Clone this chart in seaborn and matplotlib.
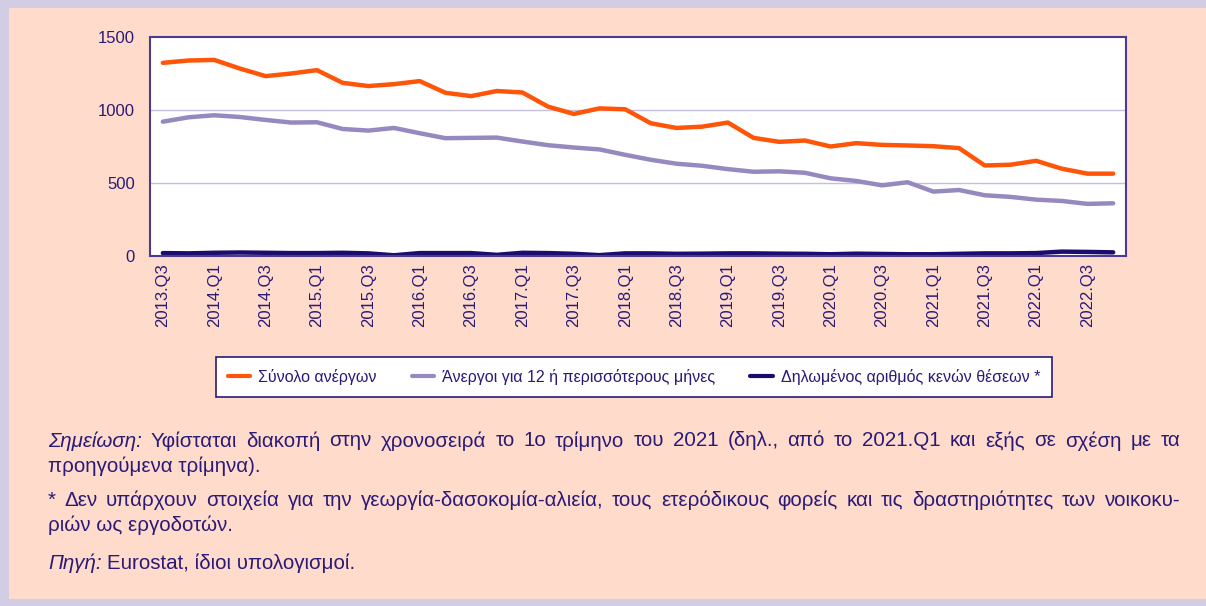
import numpy as np
import pandas as pd
import matplotlib.pyplot as plt
import matplotlib.transforms as mtransforms
import seaborn as sns

# ── Data ──────────────────────────────────────────────────────────────────────

quarters = [f"{y}.Q{q}" for y in range(2013, 2023) for q in range(1, 5)][2:]

total_unemployed = [1323, 1339, 1343, 1284, 1232, 1250, 1273, 1186, 1164, 1177,
                    1198, 1118, 1095, 1130, 1120, 1023, 973, 1011, 1005, 909,
                    877, 886, 914, 809, 782, 791, 750, 773, 761, 757,
                    752, 739, 620, 625, 652, 598, 564, 564]
long_term = [920, 950, 964, 952, 932, 914, 916, 870, 859, 877,
             841, 807, 809, 811, 784, 759, 743, 730, 693, 659,
             632, 618, 595, 577, 580, 570, 532, 514, 484, 505,
             441, 452, 416, 405, 386, 377, 357, 361]
vacancies = [20, 18, 22, 24, 22, 20, 20, 22, 18, 5,
             20, 20, 20, 8, 22, 20, 15, 6, 18, 18,
             15, 16, 18, 18, 16, 15, 12, 16, 14, 12,
             12, 15, 18, 18, 20, 30, 28, 25]

series_names = ["Σύνολο ανέργων",
                "Άνεργοι για 12 ή περισσότερους μήνες",
                "Δηλωμένος αριθμός κενών θέσεων *"]
colors = ["#FF5508", "#9589C0", "#1E0B6E"]

note_label = "Σημείωση:"
note_text = ("Υφίσταται διακοπή στην χρονοσειρά το 1ο τρίμηνο του 2021 "
             "(δηλ., από το 2021.Q1 και εξής σε σχέση με τα")
note_text2 = "προηγούμενα τρίμηνα)."
star_text = ("* Δεν υπάρχουν στοιχεία για την γεωργία-δασοκομία-αλιεία, "
             "τους ετερόδικους φορείς και τις δραστηριότητες των νοικοκυ-")
star_text2 = "ριών ως εργοδοτών."
source_label = "Πηγή:"
source_text = "Eurostat, ίδιοι υπολογισμοί."

TEXT = "#2A1A78"
PEACH = "#FFDBCB"
BORDER = "#D3CDE3"
W, H = 1206, 606
FS = 14.8

df = pd.DataFrame({
    "quarter": quarters * 3,
    "value": total_unemployed + long_term + vacancies,
    "series": np.repeat(series_names, len(quarters)),
})

# ── Plot ──────────────────────────────────────────────────────────────────────

sns.set_theme(style="white")
plt.rcParams["font.family"] = ["Liberation Sans", "DejaVu Sans"]

fig = plt.figure(figsize=(W / 100, H / 100), dpi=100, facecolor=BORDER)
# peach panel inside the lavender frame
fig.patches.append(plt.Rectangle((9 / W, 1 - 599 / H), 1 - 9 / W, (599 - 8) / H,
                                 transform=fig.transFigure, facecolor=PEACH,
                                 edgecolor="none", zorder=-10))

ax = fig.add_axes([150 / W, 1 - 256 / H, 976 / W, 219 / H])
ax.set_facecolor("white")

sns.lineplot(data=df, x="quarter", y="value", hue="series", palette=colors,
             linewidth=3.2, ax=ax, legend=False, sort=False)

ax.set_xlim(-0.5, len(quarters) - 0.5)
ax.set_ylim(0, 1500)
ax.set_yticks([0, 500, 1000, 1500])
ax.set_xticks(range(0, len(quarters), 2))
ax.set_xticklabels(quarters[::2], rotation=90, fontsize=12, color=TEXT)
offset = mtransforms.ScaledTranslation(5 / 100, 0, fig.dpi_scale_trans)
for lab in ax.get_xticklabels():
    lab.set_transform(lab.get_transform() + offset)
ax.tick_params(axis="y", labelsize=12, labelcolor=TEXT, length=0, pad=11)
ax.tick_params(axis="x", length=0, pad=5)
ax.set_xlabel("")
ax.set_ylabel("")
for y in [500, 1000]:
    ax.axhline(y, color="#C5BEDC", linewidth=1.0, zorder=0)
for s in ax.spines.values():
    s.set_color("#4A3A90")
    s.set_linewidth(1.5)

handles = [plt.Line2D([0], [0], color=c, linewidth=3) for c in colors]
leg = fig.legend(handles, series_names, loc="center", ncol=3,
                 bbox_to_anchor=(634 / W, 1 - 377 / H), frameon=True,
                 fontsize=11.5, handlelength=1.4, handletextpad=0.5,
                 columnspacing=2.2, borderpad=0.75, fancybox=False)
leg.get_frame().set_edgecolor("#2A1A78")
leg.get_frame().set_linewidth(1.2)
leg.get_frame().set_facecolor("white")
leg.get_frame().set_alpha(1)
for t in leg.get_texts():
    t.set_color(TEXT)

# ── Notes ─────────────────────────────────────────────────────────────────────

fig.canvas.draw()
renderer = fig.canvas.get_renderer()


def put(x, y, s, italic=False):
    t = fig.text(x / W, 1 - y / H, s, fontsize=FS, color=TEXT, va="center",
                 style="italic" if italic else "normal")
    return t.get_window_extent(renderer).width


def justified(x0, x1, y, words, italic_first=False):
    widths = []
    for i, w in enumerate(words):
        t = fig.text(0, 0, w, fontsize=FS, style="italic" if (italic_first and i == 0) else "normal")
        widths.append(t.get_window_extent(renderer).width)
        t.remove()
    gap = (x1 - x0 - sum(widths)) / (len(words) - 1)
    x = x0
    for i, (w, wd) in enumerate(zip(words, widths)):
        put(x, y, w, italic=(italic_first and i == 0))
        x += wd + gap


justified(48, 1180, 441, [note_label] + note_text.split(), italic_first=True)
put(48, 466, note_text2)
justified(48, 1180, 500, star_text.split())
put(48, 525, star_text2)
w = put(48, 563, source_label, italic=True)
put(48 + w + 5, 563, source_text)

fig.savefig("out.png", dpi=100, facecolor=BORDER)
